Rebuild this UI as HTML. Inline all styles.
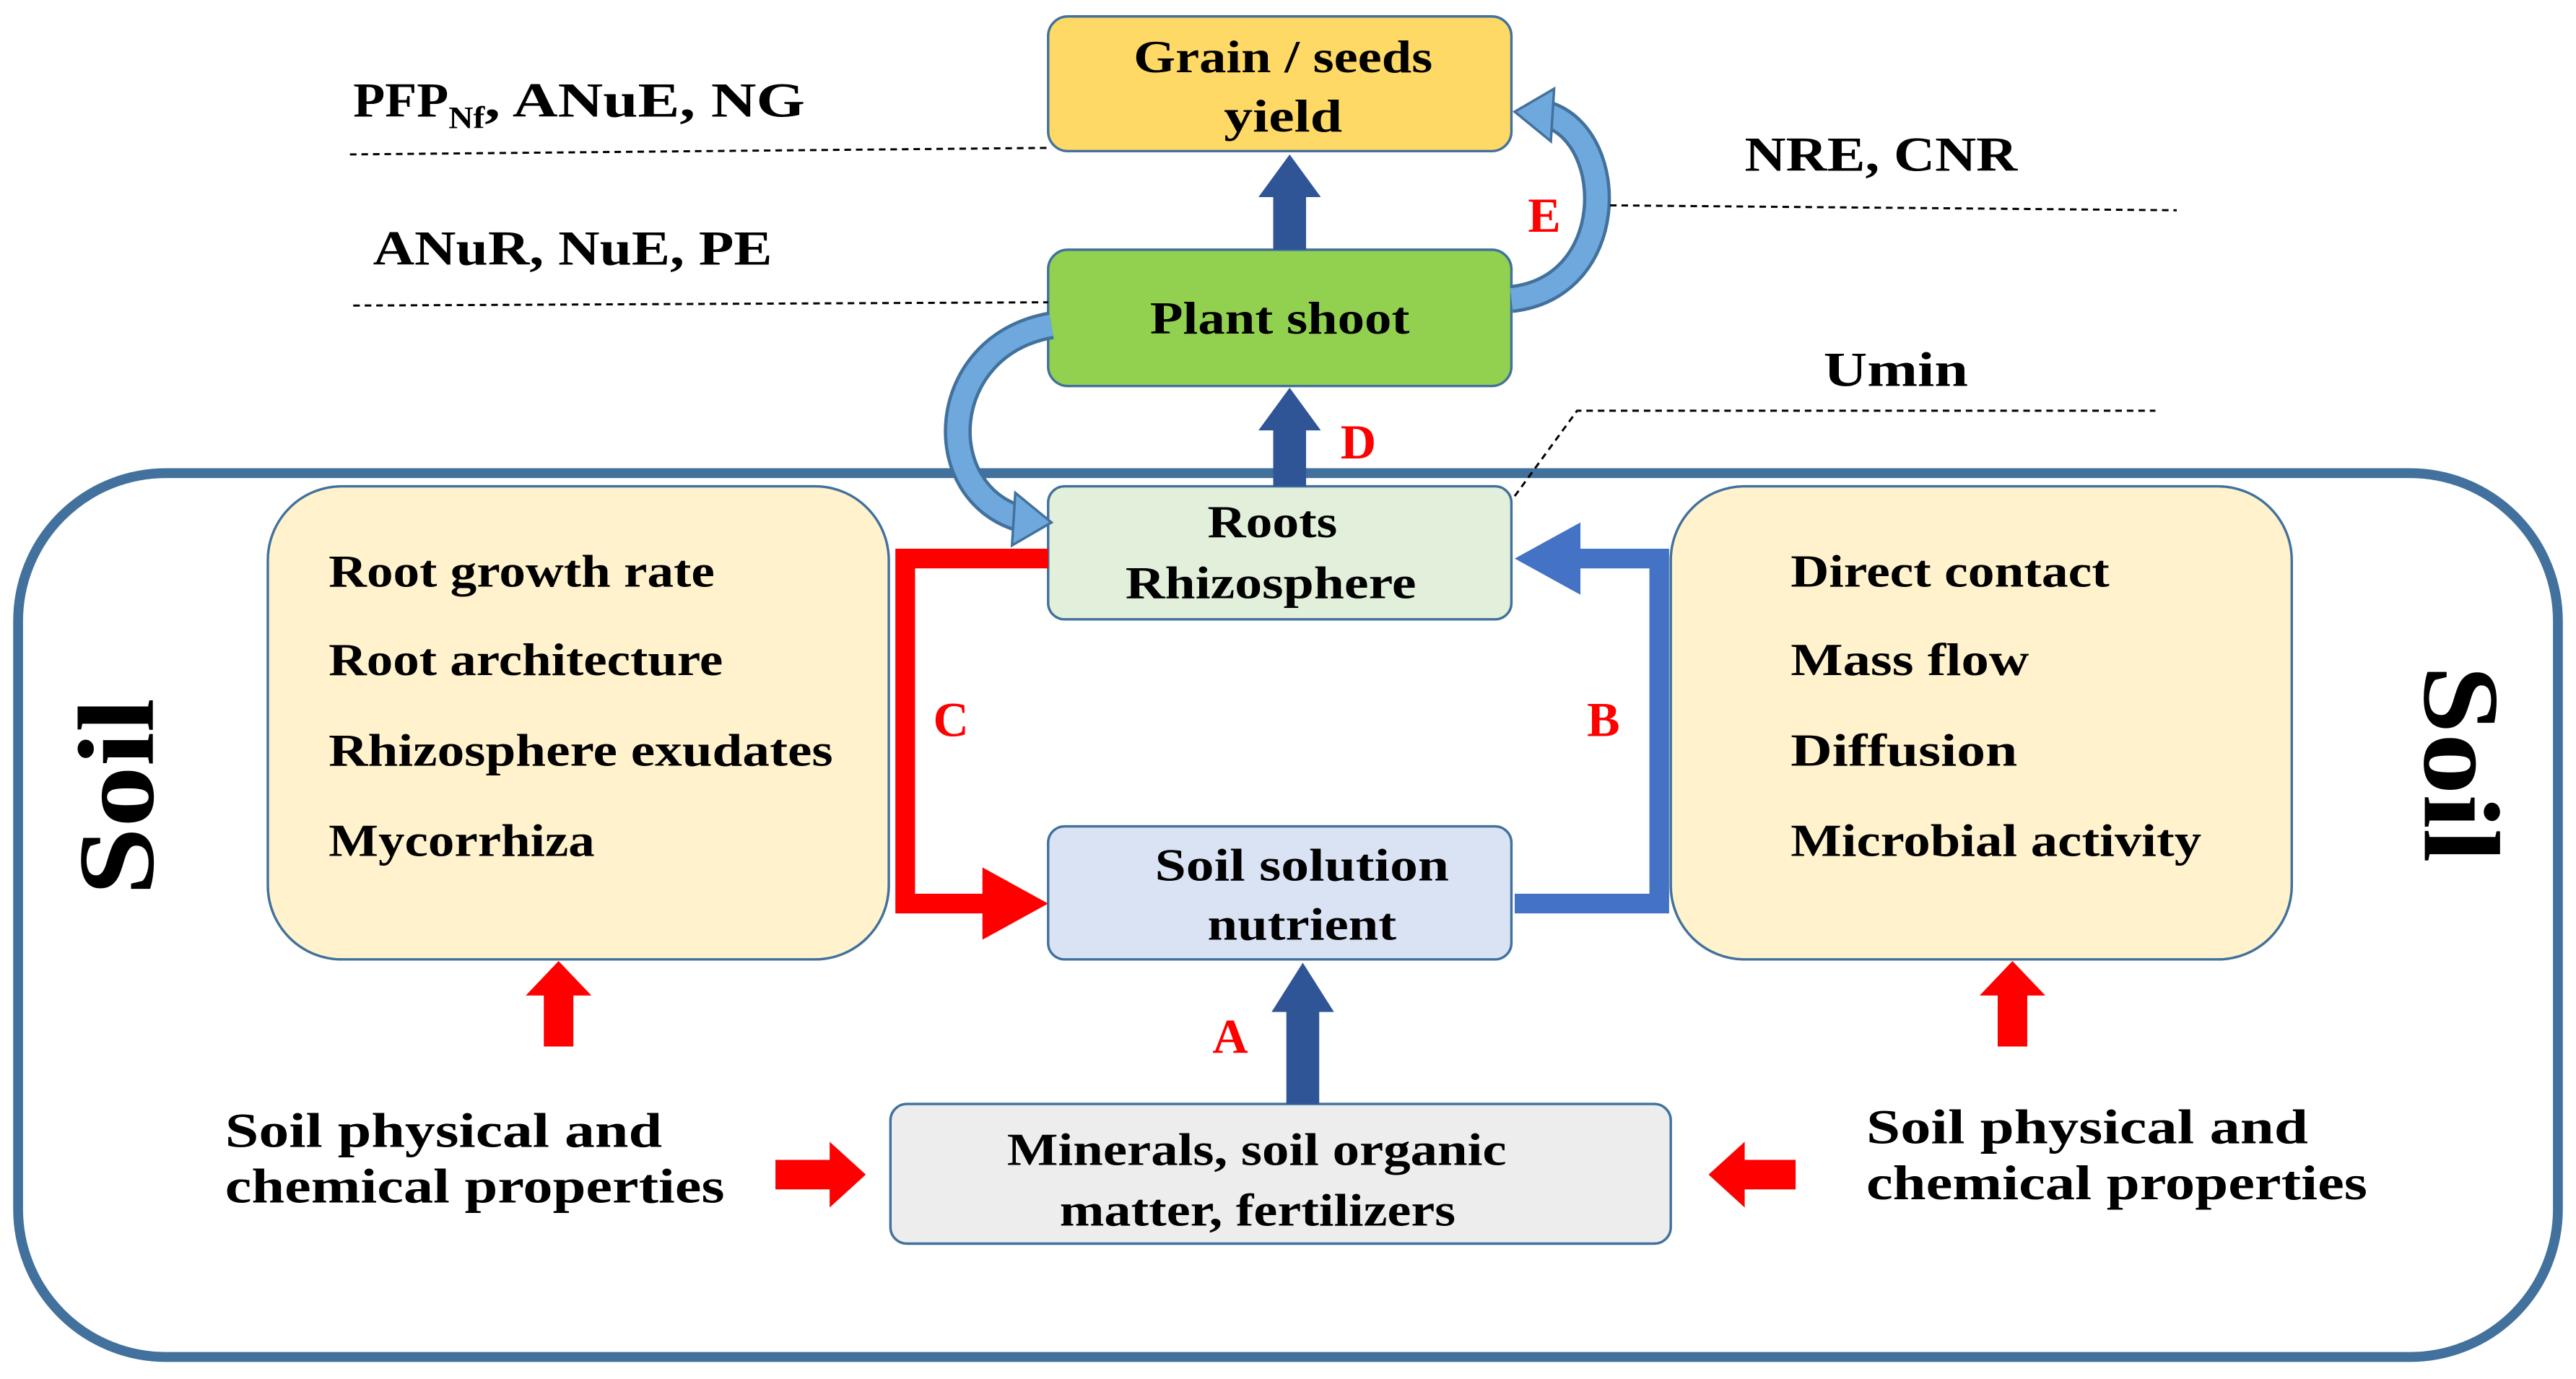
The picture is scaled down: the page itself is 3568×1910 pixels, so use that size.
<!DOCTYPE html>
<html><head><meta charset="utf-8"><style>
html,body{margin:0;padding:0;background:#fff;}
svg{display:block;}
text{font-family:"Liberation Serif",serif;font-weight:bold;fill:#000;}
</style></head><body>
<svg width="3568" height="1910" viewBox="0 0 1568 839.4" xmlns="http://www.w3.org/2000/svg">
<rect x="0" y="0" width="1568" height="840" fill="#fff"/>
<rect x="11" y="288" width="1546" height="538" rx="90" fill="none" stroke="#41719c" stroke-width="6"/>
<rect x="163" y="296" width="378" height="288" rx="45" fill="#fff2cc" stroke="#41719c" stroke-width="1.5"/>
<rect x="1017" y="296" width="378" height="288" rx="45" fill="#fff2cc" stroke="#41719c" stroke-width="1.5"/>
<g font-size="28" lengthAdjust="spacingAndGlyphs">
<text x="200" y="357" textLength="235" lengthAdjust="spacingAndGlyphs">Root growth rate</text>
<text x="200" y="411" textLength="240" lengthAdjust="spacingAndGlyphs">Root architecture</text>
<text x="200" y="466" textLength="307" lengthAdjust="spacingAndGlyphs">Rhizosphere exudates</text>
<text x="200" y="521" textLength="162" lengthAdjust="spacingAndGlyphs">Mycorrhiza</text>
<text x="1090" y="357" textLength="194" lengthAdjust="spacingAndGlyphs">Direct contact</text>
<text x="1090" y="411" textLength="145" lengthAdjust="spacingAndGlyphs">Mass flow</text>
<text x="1090" y="466" textLength="138" lengthAdjust="spacingAndGlyphs">Diffusion</text>
<text x="1090" y="521" textLength="250" lengthAdjust="spacingAndGlyphs">Microbial activity</text>
</g>
<rect x="638" y="10" width="282" height="82" rx="12" fill="#ffd966" stroke="#41719c" stroke-width="1.5"/>
<rect x="638" y="152" width="282" height="83" rx="12" fill="#92d050" stroke="#41719c" stroke-width="1.5"/>
<rect x="638" y="296" width="282" height="81" rx="10" fill="#e2efda" stroke="#41719c" stroke-width="1.5"/>
<rect x="638" y="503" width="282" height="81" rx="10" fill="#dae3f3" stroke="#41719c" stroke-width="1.5"/>
<rect x="542" y="672" width="475" height="85" rx="10" fill="#ededed" stroke="#41719c" stroke-width="1.5"/>
<g font-size="28">
<text x="690" y="44" textLength="182" lengthAdjust="spacingAndGlyphs">Grain / seeds</text>
<text x="745" y="80" textLength="72" lengthAdjust="spacingAndGlyphs">yield</text>
<text x="700" y="203" textLength="158" lengthAdjust="spacingAndGlyphs">Plant shoot</text>
<text x="735" y="327" textLength="79" lengthAdjust="spacingAndGlyphs">Roots</text>
<text x="685" y="364" textLength="177" lengthAdjust="spacingAndGlyphs">Rhizosphere</text>
<text x="703" y="536" textLength="179" lengthAdjust="spacingAndGlyphs">Soil solution</text>
<text x="735" y="572" textLength="115" lengthAdjust="spacingAndGlyphs">nutrient</text>
<text x="613" y="709" textLength="304" lengthAdjust="spacingAndGlyphs">Minerals, soil organic</text>
<text x="645" y="746" textLength="241" lengthAdjust="spacingAndGlyphs">matter, fertilizers</text>
</g>
<text font-size="66" transform="translate(93,545) rotate(-90)" textLength="120" lengthAdjust="spacingAndGlyphs">Soil</text>
<text font-size="66" transform="translate(1476,405) rotate(90)" textLength="120" lengthAdjust="spacingAndGlyphs">Soil</text>
<polyline points="638,340 551,340 551,550 600,550" fill="none" stroke="#ff0000" stroke-width="12"/>
<polygon points="598,528 638,550 598,572" fill="#ff0000"/>
<polyline points="922,550 1010,550 1010,340 962,340" fill="none" stroke="#4472c4" stroke-width="12"/>
<polygon points="962,318 922,340 962,362" fill="#4472c4"/>
<g fill="#2f5597">
<polygon points="783,672 803,672 803,616 812,616 793,586 774,616 783,616"/>
<polygon points="775,296 795,296 795,262 804,262 785,236 766,262 775,262"/>
<polygon points="775,152 795,152 795,120 804,120 785,94 766,120 775,120"/>
</g>
<g fill="#ff0000">
<polygon points="331,637 349,637 349,606 360,606 340,585 320,606 331,606"/>
<polygon points="1216,637 1234,637 1234,606 1245,606 1225,585 1205,606 1216,606"/>
<polygon points="472,706 505,706 505,695 527,715 505,735 505,724 472,724"/>
<polygon points="1093,706 1062,706 1062,695 1040,715 1062,735 1062,724 1093,724"/>
</g>
<g font-size="30">
<text x="738" y="641" style="fill:#ff0000">A</text>
<text x="966" y="448" style="fill:#ff0000">B</text>
<text x="568" y="448" style="fill:#ff0000">C</text>
<text x="816" y="279" style="fill:#ff0000">D</text>
<text x="930" y="141" style="fill:#ff0000">E</text>
</g>
<path d="M640,198 C570,210 565,300 622,316" fill="none" stroke="#41719c" stroke-width="17"/>
<path d="M640,198 C570,210 565,300 622,316" fill="none" stroke="#6fa8dc" stroke-width="13"/>
<polygon points="618,300 640,318 616,332" fill="#6fa8dc" stroke="#41719c" stroke-width="1.5"/>
<path d="M920,182 C985,175 985,85 943,70" fill="none" stroke="#41719c" stroke-width="17"/>
<path d="M920,182 C985,175 985,85 943,70" fill="none" stroke="#6fa8dc" stroke-width="13"/>
<polygon points="946,54 922,68 944,86" fill="#6fa8dc" stroke="#41719c" stroke-width="1.5"/>
<g stroke="#000" stroke-width="1.3" stroke-dasharray="4,3" fill="none">
<line x1="213" y1="94" x2="640" y2="90"/>
<line x1="215" y1="186" x2="638" y2="184"/>
<line x1="980" y1="125" x2="1325" y2="128"/>
<polyline points="922,302 960,250 1312,250"/>
</g>
<g font-size="30">
<text x="215" y="71" textLength="58" lengthAdjust="spacingAndGlyphs">PFP</text>
<text x="273" y="78" font-size="19" textLength="22" lengthAdjust="spacingAndGlyphs">Nf</text>
<text x="295" y="71" textLength="195" lengthAdjust="spacingAndGlyphs">, ANuE, NG</text>
<text x="227" y="161" textLength="243" lengthAdjust="spacingAndGlyphs">ANuR, NuE, PE</text>
<text x="1062" y="104" textLength="166" lengthAdjust="spacingAndGlyphs">NRE, CNR</text>
<text x="1110" y="235" textLength="88" lengthAdjust="spacingAndGlyphs">Umin</text>
<text x="137" y="698" textLength="266" lengthAdjust="spacingAndGlyphs">Soil physical and</text>
<text x="137" y="732" textLength="304" lengthAdjust="spacingAndGlyphs">chemical properties</text>
<text x="1136" y="696" textLength="269" lengthAdjust="spacingAndGlyphs">Soil physical and</text>
<text x="1136" y="730" textLength="305" lengthAdjust="spacingAndGlyphs">chemical properties</text>
</g>
</svg>
</body></html>
